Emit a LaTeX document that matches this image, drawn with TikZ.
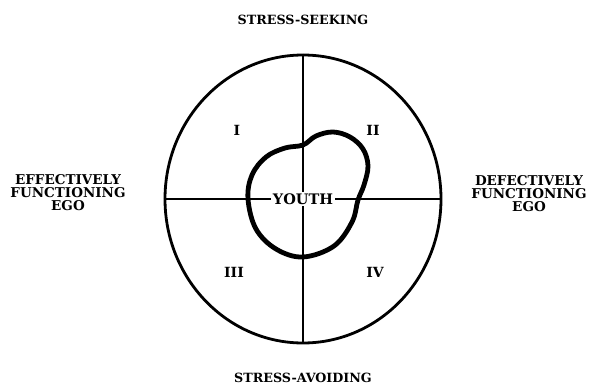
\documentclass[tikz,border=0pt]{standalone}
\usepackage{fontspec}
\setmainfont{DejaVu Serif}
\usetikzlibrary{shapes.geometric}
\tikzset{
  lbl/.style={font=\fontsize{13.5}{13}\selectfont\bfseries, align=center, inner sep=0pt},
  stress/.style={font=\fontsize{12.7}{13}\selectfont\bfseries, inner sep=0pt},
  quad/.style={font=\fontsize{14}{14}\selectfont\bfseries, inner sep=0pt},
  axis/.style={line width=2.1pt},
}
\begin{document}
\begin{tikzpicture}[x=1pt,y=-1pt]
\useasboundingbox (0,0) rectangle (596,390);
\node[ellipse, draw, line width=2.8pt, minimum width=276pt, minimum height=288pt, inner sep=0pt] (c) at (303,199) {};
\draw[axis] (c.north) -- (c.south);
\draw[axis] (c.west) -- (c.east);
\draw[line width=4.8pt, line join=round]
  plot[smooth cycle, tension=0.6] coordinates {
  (303,145) (316,136) (333,132) (350,137) (363,149) (368,166) (364,185) (358,200)
  (352,222) (334,246) (303,257) (276,249) (256,229) (248,199)
  (252,175) (266,157) (285,148)};
\node[lbl, fill=white, inner sep=2pt, font=\fontsize{14.5}{14}\selectfont\bfseries] (youth) at (303,199) {YOUTH};
\node[stress] (seek) at (303,20) {STRESS-SEEKING};
\node[stress] (avoid) at (303,378) {STRESS-AVOIDING};
\node[lbl] (eff) at (68,193) {EFFECTIVELY\\FUNCTIONING\\EGO};
\node[lbl] (def) at (529,194) {DEFECTIVELY\\FUNCTIONING\\EGO};
\node[quad] (q1) at (237,130) {I};
\node[quad] (q2) at (373,130) {II};
\node[quad] (q3) at (234,272) {III};
\node[quad] (q4) at (375,272) {IV};
\end{tikzpicture}
\end{document}
